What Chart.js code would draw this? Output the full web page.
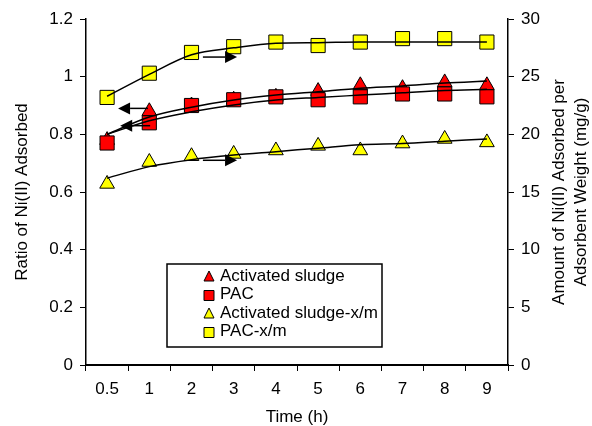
<!DOCTYPE html>
<html>
<head>
<meta charset="utf-8">
<script src="https://cdn.jsdelivr.net/npm/chart.js@4/dist/chart.umd.min.js"></script>
<style>
  html, body { margin: 0; padding: 0; background: #fff; }
  #wrap { width: 592px; height: 426px; }
</style>
</head>
<body>
<div id="wrap"><canvas id="chart" width="592" height="426"></canvas></div>
<script>
// Data
const timeLabels = ['0.5', '1', '2', '3', '4', '5', '6', '7', '8', '9'];

// left axis: ratio adsorbed
const sludgeRatio = [0.78, 0.88, 0.90, 0.92, 0.93, 0.95, 0.97, 0.96, 0.98, 0.97];
const pacRatio = [0.77, 0.84, 0.90, 0.92, 0.93, 0.92, 0.93, 0.94, 0.94, 0.93];
// right axis: x/m (mg/g)
const sludgeXm = [15.7, 17.6, 18.1, 18.3, 18.6, 19.0, 18.6, 19.2, 19.6, 19.3];
const pacXm = [23.2, 25.3, 27.1, 27.6, 28.0, 27.7, 28.0, 28.3, 28.3, 28.0];

// trend curves as drawn in the figure
const sludgeRatioTrend = [0.80, 0.86, 0.894, 0.919, 0.936, 0.948, 0.96, 0.968, 0.978, 0.985];
const pacRatioTrend = [0.80, 0.847, 0.878, 0.902, 0.919, 0.928, 0.936, 0.944, 0.952, 0.956];
const sludgeXmTrend = [16.2, 17.2, 17.8, 18.2, 18.5, 18.8, 19.1, 19.2, 19.4, 19.6];
const pacXmTrend = [23.3, 25.2, 26.9, 27.5, 27.9, 27.95, 28.0, 28.0, 28.0, 28.0];

const leftTicks = { min: 0, max: 1.2, step: 0.2 };
const rightTicks = { min: 0, max: 30, step: 5 };

const FONT = "'Liberation Sans', Arial, sans-serif";
const FONT_SIZE = 17;
const RED = '#ff0000';
const YELLOW = '#ffff00';

// arrows pointing to the axis each pair belongs to (category index, axis value)
const arrowNotes = [
    { from: [0.97, 0.89], to: [0.26, 0.89], axis: 'y' },
    { from: [1.02, 0.83], to: [0.31, 0.83], axis: 'y' },
    { from: [2.27, 26.7], to: [3.08, 26.7], axis: 'y2' },
    { from: [2.27, 17.75], to: [3.08, 17.75], axis: 'y2' }
];

const legendItems = [
    { label: 'Activated sludge', shape: 'tri', color: RED },
    { label: 'PAC', shape: 'sq', color: RED },
    { label: 'Activated sludge-x/m', shape: 'tri', color: YELLOW },
    { label: 'PAC-x/m', shape: 'sq', color: YELLOW }
];

function trendSet(data, axis) {
    return {
        data: data,
        yAxisID: axis,
        borderColor: '#000',
        borderWidth: 1.5,
        pointRadius: 0,
        cubicInterpolationMode: 'monotone',
        fill: false,
        order: 0
    };
}

function markerSet(label, data, axis, shape, color, order) {
    return {
        label: label,
        data: data,
        yAxisID: axis,
        showLine: false,
        pointStyle: shape === 'tri' ? 'triangle' : 'rect',
        pointRadius: shape === 'tri' ? 8.5 : 10,
        pointBackgroundColor: color,
        pointBorderColor: '#000',
        pointBorderWidth: 1,
        order: order
    };
}

function drawMarker(ctx, shape, x, y, color, s) {
    ctx.beginPath();
    if (shape === 'tri') {
        ctx.moveTo(x, y - s * 0.6);
        ctx.lineTo(x + s / 2, y + s * 0.4);
        ctx.lineTo(x - s / 2, y + s * 0.4);
        ctx.closePath();
    } else {
        ctx.rect(x - s / 2, y - s / 2, s, s);
    }
    ctx.fillStyle = color;
    ctx.fill();
    ctx.strokeStyle = '#000';
    ctx.lineWidth = 1;
    ctx.stroke();
}

function drawArrow(ctx, x1, y1, x2, y2) {
    const dir = Math.sign(x2 - x1);
    const head = 12;
    ctx.strokeStyle = '#000';
    ctx.lineWidth = 1.5;
    ctx.beginPath();
    ctx.moveTo(x1, y1);
    ctx.lineTo(x2 - dir * head, y2);
    ctx.stroke();
    ctx.beginPath();
    ctx.moveTo(x2, y2);
    ctx.lineTo(x2 - dir * head, y2 - 6);
    ctx.lineTo(x2 - dir * head, y2 + 6);
    ctx.closePath();
    ctx.fillStyle = '#000';
    ctx.fill();
}

const tickFmt = v => String(Number(v.toFixed(1)));

const decorPlugin = {
    id: 'decor',
    afterDatasetsDraw(chart) {
        const ctx = chart.ctx;
        const xs = chart.scales.x;
        ctx.save();
        arrowNotes.forEach(a => {
            const ys = chart.scales[a.axis];
            drawArrow(ctx,
                xs.getPixelForValue(a.from[0]), ys.getPixelForValue(a.from[1]),
                xs.getPixelForValue(a.to[0]), ys.getPixelForValue(a.to[1]));
        });
        ctx.restore();
    },
    afterDraw(chart) {
        const ctx = chart.ctx;
        const area = chart.chartArea;
        ctx.save();
        ctx.fillStyle = '#000';
        ctx.font = FONT_SIZE + 'px ' + FONT;
        ctx.textAlign = 'center';
        ctx.textBaseline = 'middle';

        // axis titles
        ctx.fillText('Time (h)', (area.left + area.right) / 2, 417);
        const midY = (area.top + area.bottom) / 2;
        ctx.save();
        ctx.translate(22, midY);
        ctx.rotate(-Math.PI / 2);
        ctx.fillText('Ratio of Ni(II) Adsorbed', 0, 0);
        ctx.restore();
        ctx.save();
        ctx.translate(559, midY);
        ctx.rotate(-Math.PI / 2);
        ctx.fillText('Amount of Ni(II) Adsorbed per', 0, 0);
        ctx.fillText('Adsorbent Weight (mg/g)', 0, 22);
        ctx.restore();

        // legend box
        const bx = area.left + 81, by = 264, bw = 215, bh = 83;
        ctx.fillStyle = '#fff';
        ctx.fillRect(bx, by, bw, bh);
        ctx.strokeStyle = '#000';
        ctx.lineWidth = 1.5;
        ctx.strokeRect(bx, by, bw, bh);
        ctx.textAlign = 'left';
        legendItems.forEach((item, i) => {
            const y = by + 12 + i * 18.5;
            drawMarker(ctx, item.shape, bx + 42, y + 1, item.color, 10);
            ctx.fillStyle = '#000';
            ctx.fillText(item.label, bx + 53, y);
        });
        ctx.restore();
    }
};

new Chart(document.getElementById('chart').getContext('2d'), {
    type: 'line',
    data: {
        labels: timeLabels,
        datasets: [
            trendSet(sludgeRatioTrend, 'y'),
            trendSet(pacRatioTrend, 'y'),
            trendSet(sludgeXmTrend, 'y2'),
            trendSet(pacXmTrend, 'y2'),
            markerSet('PAC', pacRatio, 'y', 'sq', RED, 1),
            markerSet('Activated sludge', sludgeRatio, 'y', 'tri', RED, 2),
            markerSet('PAC-x/m', pacXm, 'y2', 'sq', YELLOW, 1),
            markerSet('Activated sludge-x/m', sludgeXm, 'y2', 'tri', YELLOW, 2)
        ]
    },
    options: {
        responsive: false,
        animation: false,
        layout: { padding: { top: 19, left: 0, right: 0, bottom: 0 } },
        plugins: {
            legend: { display: false },
            tooltip: { enabled: false }
        },
        scales: {
            x: {
                offset: true,
                grid: { offset: true, drawOnChartArea: false, tickLength: 6, color: '#000' },
                border: { color: '#000', width: 2 },
                ticks: { color: '#000', font: { family: FONT, size: FONT_SIZE }, padding: 8, maxRotation: 0 },
                afterFit: s => { s.height = 61; }
            },
            y: {
                position: 'left',
                min: leftTicks.min,
                max: leftTicks.max,
                grid: { drawOnChartArea: false, tickLength: 6, color: '#000' },
                border: { color: '#000', width: 1.5 },
                ticks: { stepSize: leftTicks.step, color: '#000', font: { family: FONT, size: FONT_SIZE }, padding: 7, callback: tickFmt },
                afterFit: s => { s.width = 86; }
            },
            y2: {
                position: 'right',
                min: rightTicks.min,
                max: rightTicks.max,
                grid: { drawOnChartArea: false, tickLength: 6, color: '#000' },
                border: { color: '#000', width: 1.5 },
                ticks: { stepSize: rightTicks.step, color: '#000', font: { family: FONT, size: FONT_SIZE }, padding: 7, callback: tickFmt },
                afterFit: s => { s.width = 84; }
            }
        }
    },
    plugins: [decorPlugin]
});
</script>
</body>
</html>
